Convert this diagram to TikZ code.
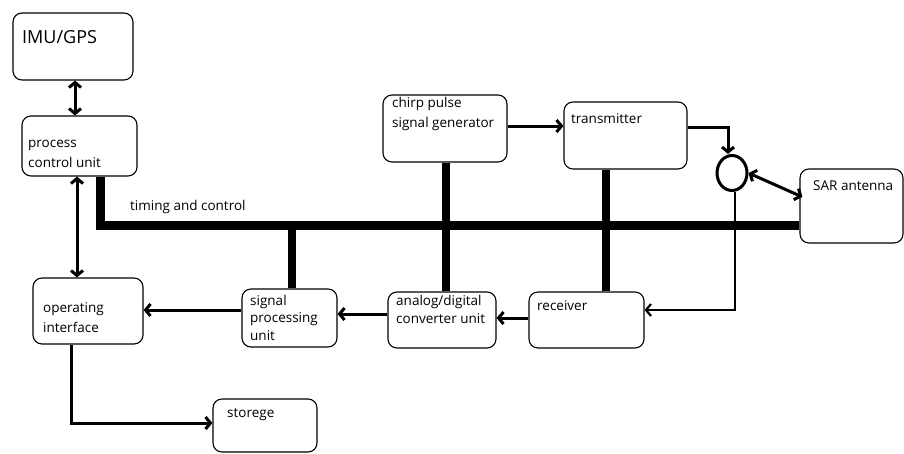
\documentclass[tikz,border=0pt]{standalone}
\usepackage{fontspec}
\setmainfont{Open Sans}
\usetikzlibrary{arrows.meta,calc,shapes.geometric}
\tikzset{
  box/.style={draw, rounded corners=9pt, line width=1.1pt, inner sep=0pt},
  lbl/.style={anchor=base west, inner sep=0pt, align=left, font=\fontsize{13.5}{19.5}\selectfont},
  lbls/.style={lbl, font=\fontsize{13.5}{17.5}\selectfont},
  conn/.style={line width=3pt, -{Straight Barb[length=5pt,width=12pt]}},
  dconn/.style={line width=3pt, {Straight Barb[length=5pt,width=12pt]}-{Straight Barb[length=5pt,width=12pt]}},
  bus/.style={line width=9pt},
  stub/.style={line width=8pt},
}
\begin{document}
\begin{tikzpicture}[x=1pt,y=-1pt]
\useasboundingbox[fill=white] (0,0) rectangle (904,453);
% boxes
\node[box, minimum width=120pt, minimum height=67pt] (imu) at (73,46.5) {};
\node[box, minimum width=115pt, minimum height=60pt] (pcu) at (79.5,146) {};
\node[box, minimum width=110pt, minimum height=66pt] (oi) at (88,311) {};
\node[box, minimum width=95pt, minimum height=58pt] (spu) at (289.5,318) {};
\node[box, minimum width=104pt, minimum height=53pt] (sto) at (265,425.5) {};
\node[box, minimum width=108pt, minimum height=56pt] (adc) at (442,320) {};
\node[box, minimum width=115pt, minimum height=56pt] (rcv) at (586.5,320) {};
\node[box, minimum width=124pt, minimum height=67pt] (chirp) at (445,128.5) {};
\node[box, minimum width=123pt, minimum height=67pt] (tx) at (625.5,135.5) {};
\node[box, minimum width=103pt, minimum height=74pt] (sar) at (851.5,206) {};
\node[draw, ellipse, line width=3pt, minimum width=30pt, minimum height=35pt, inner sep=0pt] (circ) at (732,173) {};
% texts (anchor = baseline of the last line)
\node[lbl, font=\fontsize{18}{22}\selectfont] (timu) at (22,43) {IMU/GPS};
\node[lbl] (tpcu) at (28,167) {process\\control unit};
\node[lbl] (ttc) at (130,210) {timing and control};
\node[lbl] (tchirp) at (392,127) {chirp pulse\\signal generator};
\node[lbl] (ttx) at (571,123) {transmitter};
\node[lbl] (tsar) at (813,190) {SAR antenna};
\node[lbl] (toi) at (43,332) {operating\\interface};
\node[lbls] (tspu) at (250,340) {signal\\processing\\unit};
\node[lbl] (tsto) at (227,417) {storege};
\node[lbls] (tadc) at (396,323) {analog/digital\\converter unit};
\node[lbl] (trcv) at (537,310) {receiver};
% bus
\coordinate (busy) at (0,225);
\draw[bus] ([xshift=20.5pt]pcu.south) |- (sar.west |- busy);
\draw[stub] ([xshift=1pt]chirp.south) -- ([xshift=1pt]chirp.south |- adc.north);
\draw[stub] ([xshift=-19.5pt]tx.south) -- ([xshift=-19.5pt]tx.south |- rcv.north);
\draw[stub] ([xshift=2.5pt]spu.north) -- ([xshift=2.5pt]spu.north |- busy);
% connectors
\draw[dconn] ([xshift=2pt]imu.south) -- ([xshift=2pt]imu.south |- pcu.north);
\draw[dconn] ([xshift=-2.5pt]pcu.south) -- ([xshift=-2.5pt]pcu.south |- oi.north);
\draw[conn] ([yshift=2.5pt]chirp.east) -- ([yshift=2.5pt]chirp.east -| tx.west);
\draw[conn] ([yshift=8.5pt]tx.east) -| ([xshift=-4pt]circ.north);
\draw[dconn] (circ.east) -- ([xshift=3pt,yshift=9pt]sar.west);
\draw[line width=2.2pt, -{Straight Barb[length=5pt,width=12pt]}] ([xshift=3pt]circ.south) |- ([yshift=10pt]rcv.east);
\draw[conn] ([yshift=2pt]rcv.west) -- ([yshift=2pt]rcv.west -| adc.east);
\draw[conn] ([yshift=6pt]adc.west) -- ([yshift=6pt]adc.west -| spu.east);
\draw[conn] ([yshift=8pt]spu.west) -- ([yshift=8pt]spu.west -| oi.east);
\draw[conn] ([xshift=-17pt]oi.south) |- ([yshift=2.5pt]sto.west);
\end{tikzpicture}
\end{document}
